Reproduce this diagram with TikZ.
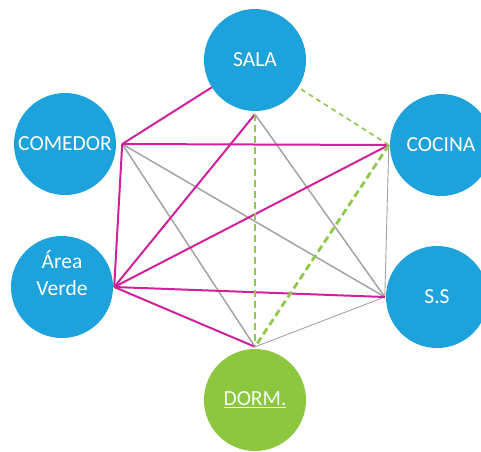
\documentclass[tikz,border=0pt]{standalone}
\usepackage{fontspec}
\setmainfont{Carlito}
\usepackage{tikz}
\usetikzlibrary{positioning}

\definecolor{roomblue}{HTML}{1DA2DC}
\definecolor{roomgreen}{HTML}{8DC73F}
\definecolor{linkpink}{HTML}{D0219A}
\definecolor{linkgray}{HTML}{A3A3A3}
\definecolor{linkgreen}{HTML}{8FC84A}

\begin{document}
\begin{tikzpicture}[
  x=1pt,y=-1pt,
  font=\fontsize{21.5}{27}\selectfont,
  room/.style={circle,fill=roomblue,text=white,align=center,inner sep=0pt,minimum size=102pt},
  sleep/.style={room,fill=roomgreen,text=green!4!white},
  strong/.style={linkpink,line width=2pt},
  weak/.style={linkgray,line width=1.5pt},
  faint/.style={linkgray,line width=0.9pt},
  wanted/.style={linkgreen,line width=2.8pt,dash pattern=on 7pt off 4pt},
  wantedthin/.style={linkgreen,line width=1.6pt,dash pattern=on 5pt off 4pt},
  node distance=10pt,on grid]
\useasboundingbox (0,0) rectangle (481,451);
\node[room] (sala) at (255,60) {SALA};
\node[room,below left=84pt and 190pt of sala] (comedor) {COMEDOR};
\node[room,below right=85pt and 186pt of sala] (cocina) {COCINA};
\node[room,below left=227pt and 193pt of sala,text depth=27pt] (area) {Área\\Verde};
\node[room,below right=237pt and 182pt of sala] (ss) {S.S};
\node[sleep,below=340pt of sala] (dorm) {\underline{DORM.}};
% meeting points of the links
\coordinate (hubComedor) at ([xshift=6pt]comedor.east);
\coordinate (hubArea) at ([xshift=1pt]area.east);
\coordinate (hubSala) at ([yshift=-3pt]sala.south);
\coordinate (hubCocina) at ([xshift=-1pt]cocina.west);
\coordinate (hubSS) at ([xshift=-1pt]ss.west);
\coordinate (hubDorm) at ([yshift=2pt]dorm.north);
% gray links
\draw[weak] (hubComedor) -- (hubSS);
\draw[weak] (hubComedor) -- (hubDorm);
\draw[weak] (hubSala) -- (hubSS);
\draw[faint] (hubCocina) -- (hubSS);
\draw[faint] (hubDorm) -- (hubSS);
% pink links
\draw[strong] (hubComedor) -- (sala);
\draw[strong] (hubComedor) -- (hubCocina);
\draw[strong] (hubComedor) -- (hubArea);
\draw[strong] (hubArea) -- (hubSala);
\draw[strong] (hubArea) -- (hubCocina);
\draw[strong] (hubArea) -- (hubSS);
\draw[strong] (hubArea) -- (hubDorm);
% green dashed links
\draw[wantedthin] (hubCocina) -- (sala);
\draw[wanted] (hubSala) -- (hubDorm);
\draw[wanted] (hubCocina) -- (hubDorm);
\end{tikzpicture}
\end{document}
